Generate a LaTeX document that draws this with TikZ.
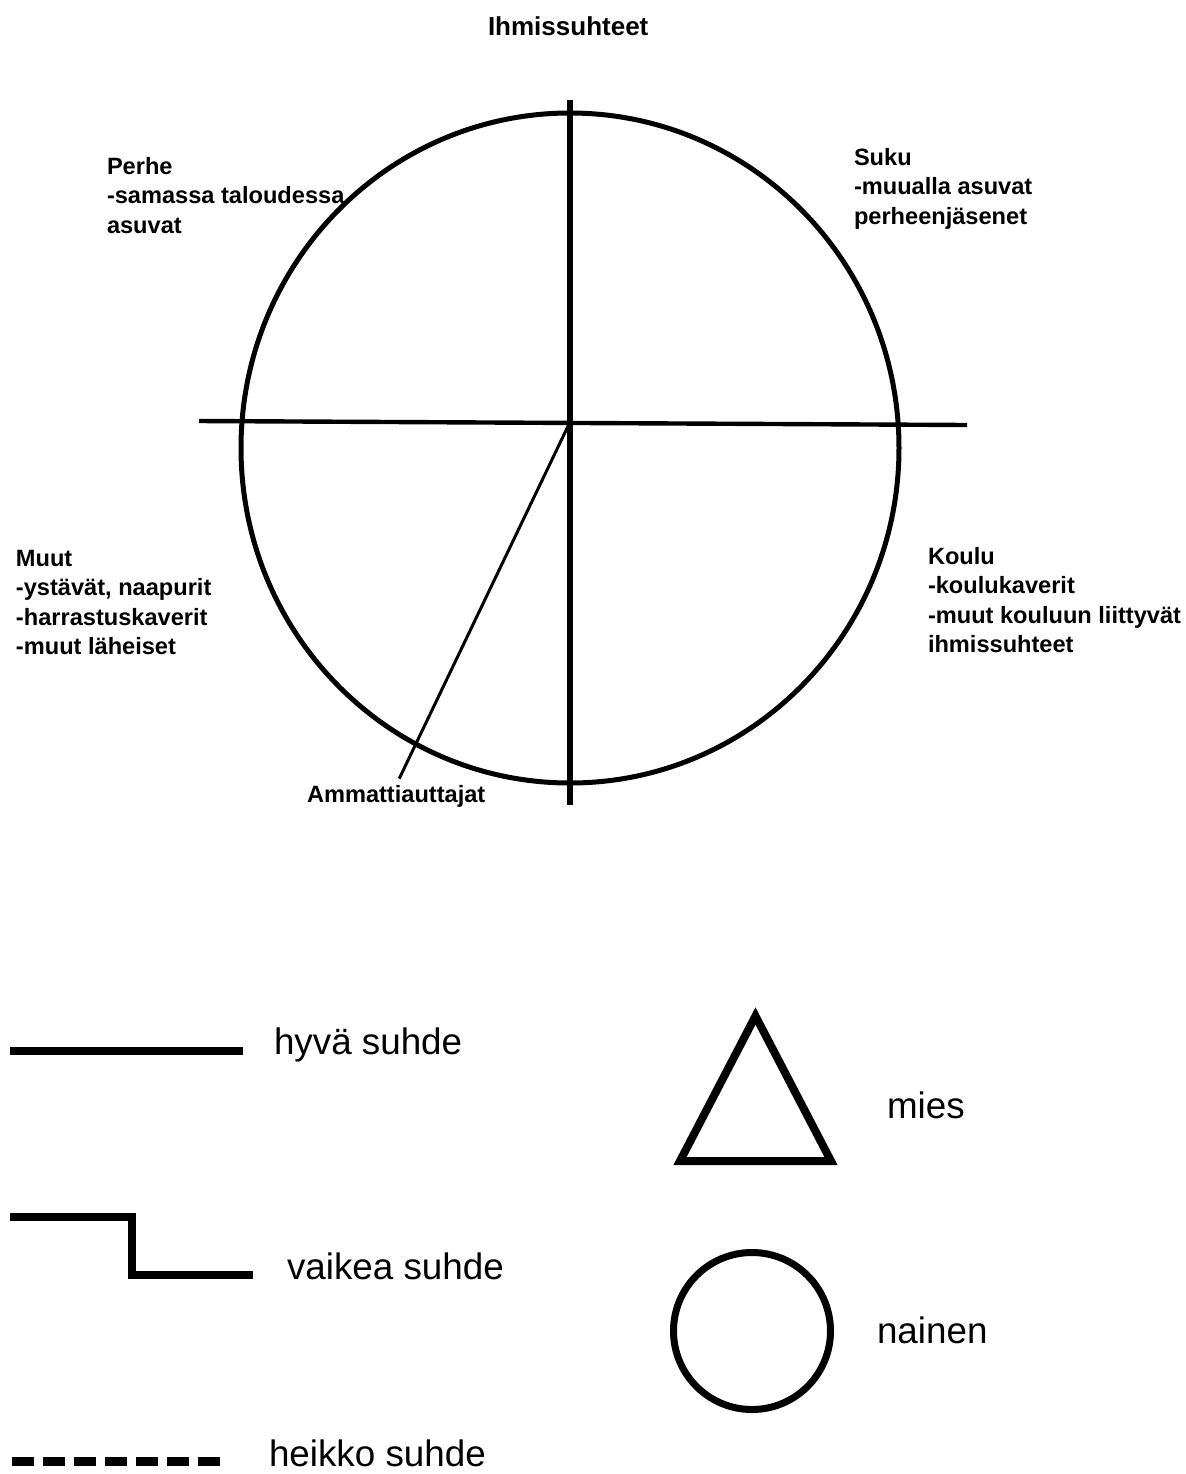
\documentclass[tikz,border=0pt]{standalone}
\usepackage{fontspec}
\setmainfont{Liberation Sans}
\usetikzlibrary{positioning}

\begin{document}
\begin{tikzpicture}[
                x=0.5pt,
                y=-0.5pt,
                every node/.style={inner sep=0pt, outer sep=0pt},
                area/.style={anchor=north west, align=left, font=\fontsize{11.8}{14.75}\selectfont\bfseries},
                legtext/.style={anchor=base west, font=\fontsize{18.4}{22}\selectfont},
                rel/.style={line width=4pt, line join=miter}
            ]

            \useasboundingbox (0,0) rectangle (1186,1474);

            \node[anchor=north west, font=\fontsize{13}{15}\selectfont\bfseries] (title) at (488,17) {Ihmissuhteet};

            \coordinate (ctr) at (570,422);
            \coordinate (vtop) at (570,100);
            \coordinate (vbot) at (570,805);
            \coordinate (hleft) at (199,421);
            \coordinate (hright) at (967,425);
            \coordinate (rim) at (570,448);

            \draw[line width=2.5pt] (rim) ellipse [x radius=329, y radius=335];
            \draw[line width=2.2pt] (hleft) -- (hright);
            \draw[line width=3pt] (vtop) -- (vbot);

            \node[area] (perhe) at (107,157) {Perhe\\-samassa taloudessa\\asuvat};
            \node[area] (suku) at (854,148) {Suku\\-muualla asuvat\\perheenjäsenet};
            \node[area] (muut) at (16,550) {Muut\\-ystävät, naapurit\\-harrastuskaverit\\-muut läheiset};
            \node[area] (koulu) at (928,547) {Koulu\\-koulukaverit\\-muut kouluun liittyvät\\ihmissuhteet};
            \node[area] (amm) at (307,785) {Ammattiauttajat};

            \draw[line width=1.5pt, shorten >=3.5pt] (ctr) -- (amm.north);

            \coordinate (g1) at (10,1051);
            \coordinate (g2) at (243,1051);
            \draw[rel] (g1) -- (g2);
            \node[legtext] (hyva) at (274,1054) {hyvä suhde};

            \coordinate (v1) at (10,1216.5);
            \coordinate (v3) at (132,1275);
            \coordinate (v4) at (253,1275);
            \draw[rel] (v1) -| (v3) -- (v4);
            \node[legtext] (vaikea) at (287,1279) {vaikea suhde};

            \coordinate (w1) at (12,1461);
            \coordinate (w2) at (220,1461);
            \draw[line width=4.5pt, dash pattern=on 11pt off 4.5pt] (w1) -- (w2);
            \node[legtext] (heikko) at (269,1466) {heikko suhde};

            \draw[rel] (755.5,1016) -- (831,1161) -- (680,1161) -- cycle;
            \node[legtext] (mies) at (887,1118) {mies};

            \draw[line width=3.5pt] (752,1331) circle [radius=78.5];
            \node[legtext] (nainen) at (877,1343) {nainen};

            \end{tikzpicture}
\end{document}
